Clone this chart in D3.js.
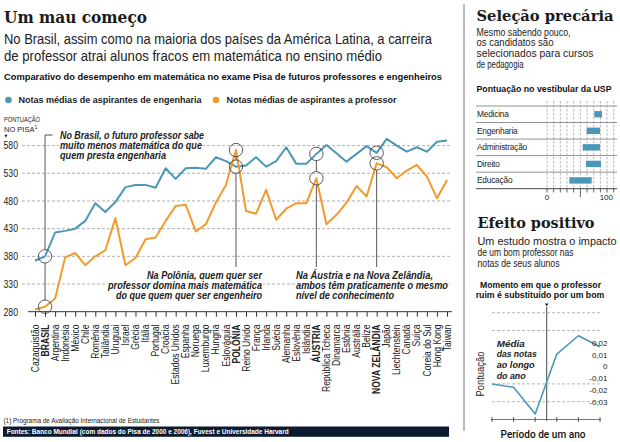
<!DOCTYPE html>
<html><head><meta charset="utf-8">
<script src="https://cdn.jsdelivr.net/npm/d3@7"></script>
<style>body{margin:0;background:#fff} svg{display:block}</style>
</head><body><svg id="c" width="620" height="442"></svg>
<script>
// ---------- DATA ----------
const countries = ["Cazaquistão","BRASIL","Argentina","Indonésia","México","Chile","Romênia","Tailândia","Uruguai","Israel","Grécia","Itália","Portugal","Croácia","Estados Unidos","Espanha","Noruega","Luxemburgo","Hungria","Eslováquia","POLÔNIA","Reino Unido","França","Irlanda","Suécia","Alemanha","Eslovênia","Islândia","ÁUSTRIA","República Tcheca","Dinamarca","Estônia","Austrália","Belize","NOVA ZELÂNDIA","Japão","Liechtenstein","Canadá","Suíça","Coreia do Sul","Hong Kong","Taiwan"];
const highlighted = ["BRASIL","POLÔNIA","ÁUSTRIA","NOVA ZELÂNDIA"];
const engenharia = [372,380,423,426,430,444,476,460,478,505,509,509,504,539,520,539,540,538,559,552,542,544,559,542,552,577,547,547,565,581,566,551,565,579,567,592,580,569,577,569,587,589];
const professor  = [284,289,304,378,386,364,380,391,449,364,377,411,414,444,471,473,425,438,477,509,572,462,457,500,446,466,476,476,521,438,455,477,507,488,548,541,521,535,545,524,485,518];
const yTicks = [280,330,380,430,480,530,580];

const cursos = ["Medicina","Engenharia","Administração","Direito","Educação"];
const notaMin = [71,59.5,53.5,58.5,33.5];
const notaMax = [82.5,79.5,79.5,81,67];
const uspTicks = [0,10,20,30,40,50,60,70,80,90,100];

const periodos = [1,2,3,4,5,6];
const mediaNotas = [-0.015,-0.0178,-0.0404,0.0104,0.0259,0.0166];
const efeitoTicks = [0.02,0.01,0,-0.01,-0.02,-0.03];
const efeitoLabels = ["0,02","0,01","0","-0,01","-0,02","-0,03"];

// ---------- STYLE ----------
const BLUE = "#4b98b6", ORANGE = "#f39a2c";
const SANS = "'Liberation Sans', Arial, sans-serif";
const NARROW = "'Liberation Sans Narrow', 'Liberation Sans', sans-serif";
const SERIF = "'DejaVu Serif', 'Liberation Serif', serif";
const svg = d3.select("#c");

function txt(g, s, x, y, o = {}) {
  const t = g.append("text").attr("x", x).attr("y", y).text(s)
    .attr("font-family", o.ff || SANS).attr("font-size", o.fs || 10)
    .attr("font-weight", o.fw || "normal").attr("fill", o.fill || "#222");
  if (o.fst) t.attr("font-style", o.fst);
  if (o.anchor) t.attr("text-anchor", o.anchor);
  if (o.w) t.attr("textLength", o.w).attr("lengthAdjust", "spacingAndGlyphs");
  if (o.halo) t.attr("stroke", "#fff").attr("stroke-width", 3).attr("paint-order", "stroke").attr("stroke-linejoin", "round");
  return t;
}
// scale a group of texts horizontally so that a reference text gets a target width
function calibrate(sel, refText, target) {
  let k = 1;
  sel.each(function () { if (this.textContent === refText) k = target / this.getComputedTextLength(); });
  sel.each(function () {
    d3.select(this).attr("textLength", this.getComputedTextLength() * k).attr("lengthAdjust", "spacingAndGlyphs");
  });
}

// ---------- HEADER ----------
txt(svg, "Um mau começo", 4, 22.7, {ff: SERIF, fs: 17, fw: "bold", fill: "#1a1a1a", w: 143});
txt(svg, "No Brasil, assim como na maioria dos países da América Latina, a carreira", 4, 44, {fs: 13.8, w: 428, fill: "#222"});
txt(svg, "de professor atrai alunos fracos em matemática no ensino médio", 4, 60.7, {fs: 13.8, w: 378, fill: "#222"});
txt(svg, "Comparativo do desempenho em matemática no exame Pisa de futuros professores e engenheiros", 4, 80, {fs: 8.5, fw: "bold", w: 438, fill: "#111"});

// legend
svg.append("circle").attr("cx", 8.5).attr("cy", 100).attr("r", 3.3).attr("fill", BLUE);
txt(svg, "Notas médias de aspirantes de engenharia", 18.5, 102.8, {fs: 8.8, fw: "bold", w: 183, fill: "#222"});
svg.append("circle").attr("cx", 216).attr("cy", 100).attr("r", 3.3).attr("fill", ORANGE);
txt(svg, "Notas médias de aspirantes a professor", 226.5, 102.8, {fs: 8.8, fw: "bold", w: 170, fill: "#222"});

// ---------- MAIN CHART ----------
const x = d3.scalePoint().domain(countries).range([35, 447]);
const y = d3.scaleLinear().domain([280, 580]).range([311.7, 145.6]);
const main = svg.append("g");

// y axis title
txt(main, "PONTUAÇÃO", 4, 122, {ff: NARROW, fs: 7.5, w: 36, fill: "#222"});
const np = txt(main, "NO PISA", 4, 131.5, {ff: NARROW, fs: 7.5, fill: "#222"});
np.append("tspan").attr("dy", -2.5).attr("font-size", 5).text("1");
main.append("path").attr("d", "M4.5,134.8 L7.5,134.8 L6,137.8 Z").attr("fill", "#222");

// gridlines
main.selectAll(".grid").data(yTicks.filter(v => v > 280)).join("line")
  .attr("x1", 22).attr("x2", 452).attr("y1", d => y(d)).attr("y2", d => y(d))
  .attr("stroke", "#9a9a9a").attr("stroke-width", 0.8).attr("stroke-dasharray", "3,2");
const ylabs = main.selectAll(".ylab").data(yTicks).join("text")
  .attr("x", 3.5).attr("y", d => y(d) + 3.8).text(d => d)
  .attr("font-family", NARROW).attr("font-size", 10.5).attr("fill", "#222");
calibrate(ylabs, "580", 14.5);

// x axis
main.append("line").attr("x1", 28).attr("x2", 452).attr("y1", y(280)).attr("y2", y(280))
  .attr("stroke", "#333").attr("stroke-width", 1);
const ax = main.append("g").attr("transform", `translate(0,${y(280)})`)
  .call(d3.axisBottom(x).tickSize(5).tickSizeOuter(0).tickFormat(""));
ax.select(".domain").remove();
ax.selectAll("line").attr("stroke", "#333");

const clabs = main.selectAll(".clab").data(countries).join("text")
  .attr("transform", d => `translate(${x(d) + 3.6},324.5) rotate(-90)`)
  .attr("text-anchor", "end").text(d => d)
  .attr("font-family", NARROW).attr("font-size", 10.3)
  .attr("font-weight", d => highlighted.includes(d) ? "bold" : "normal")
  .attr("fill", "#222");
calibrate(clabs, "Estados Unidos", 60);

// lines
const lineGen = d3.line().x((d, i) => x(countries[i])).y(d => y(d));
main.append("path").datum(engenharia).attr("d", lineGen).attr("fill", "none")
  .attr("stroke", BLUE).attr("stroke-width", 2).attr("stroke-linejoin", "round");
main.append("path").datum(professor).attr("d", lineGen).attr("fill", "none")
  .attr("stroke", ORANGE).attr("stroke-width", 2).attr("stroke-linejoin", "round");

// annotations
const R = 6.7, ANN = "#444";
function vline(xx, y1, y2) {
  if (y2 > y1) main.append("line").attr("x1", xx).attr("x2", xx).attr("y1", y1).attr("y2", y2)
    .attr("stroke", ANN).attr("stroke-width", 0.9);
}
function circ(xx, yy) {
  main.append("circle").attr("cx", xx).attr("cy", yy).attr("r", R)
    .attr("fill", "none").attr("stroke", "#333").attr("stroke-width", 0.8);
}
{
  const i = countries.indexOf("BRASIL"), xx = x(countries[i]);
  const ye = y(engenharia[i]), yp = y(professor[i]);
  main.append("path").attr("d", `M${xx + 7.5},135 H${xx} V${ye - R}`).attr("fill", "none")
    .attr("stroke", ANN).attr("stroke-width", 0.9);
  vline(xx, ye + R, yp - R);
  circ(xx, ye); circ(xx, yp);
}
["POLÔNIA", "ÁUSTRIA", "NOVA ZELÂNDIA"].forEach(c => {
  const i = countries.indexOf(c), xx = x(c);
  const a = Math.min(y(engenharia[i]), y(professor[i])), b = Math.max(y(engenharia[i]), y(professor[i]));
  vline(xx, a + R, b - R);
  vline(xx, b + R, 267);
  circ(xx, a); circ(xx, b);
});

const annO = {fs: 10, fw: "bold", fst: "italic", fill: "#222", halo: true};
txt(main, "No Brasil, o futuro professor sabe", 60, 139.2, {...annO, w: 144});
txt(main, "muito menos matemática do que", 60, 149, {...annO, w: 142});
txt(main, "quem presta engenharia", 60, 158.5, {...annO, w: 106});

txt(main, "Na Polônia, quem quer ser", 262, 279.4, {...annO, anchor: "end", w: 115});
txt(main, "professor domina mais matemática", 262, 289.4, {...annO, anchor: "end", w: 154});
txt(main, "do que quem quer ser engenheiro", 262, 299.4, {...annO, anchor: "end", w: 146});

txt(main, "Na Áustria e na Nova Zelândia,", 296, 279.4, {...annO, w: 137});
txt(main, "ambos têm praticamente o mesmo", 296, 289.4, {...annO, w: 152});
txt(main, "nível de conhecimento", 296, 299.4, {...annO, w: 98});

// footnote & source
txt(svg, "(1) Programa de Avaliação Internacional de Estudantes", 3.5, 423, {fs: 6.5, w: 156, fill: "#222"});
svg.append("rect").attr("x", 3).attr("y", 426.5).attr("width", 446).attr("height", 10.3).attr("fill", "#0c1a30");
txt(svg, "Fontes: Banco Mundial (com dados do Pisa de 2000 e 2006), Fuvest e Universidade Harvard", 6.7, 434.3, {fs: 6.8, fw: "bold", w: 282, fill: "#fff"});

// ---------- RIGHT PANEL ----------
svg.append("line").attr("x1", 464).attr("x2", 464).attr("y1", 4).attr("y2", 431).attr("stroke", "#777").attr("stroke-width", 1);

txt(svg, "Seleção precária", 476.5, 20.7, {ff: SERIF, fs: 14.8, fw: "bold", fill: "#1a1a1a", w: 137});
txt(svg, "Mesmo sabendo pouco,", 476.5, 35.6, {fs: 11.2, w: 94});
txt(svg, "os candidatos são", 476.5, 46.4, {fs: 11.2, w: 77});
txt(svg, "selecionados para cursos", 476.5, 57.2, {fs: 11.2, w: 117});
txt(svg, "de pedagogia", 476.5, 68, {fs: 11.2, w: 47});
txt(svg, "Pontuação no vestibular da USP", 476.5, 91.7, {fs: 8.3, fw: "bold", w: 135, fill: "#111"});

const xb = d3.scaleLinear().domain([0, 100]).range([547, 613.7]);
const yb = d3.scaleBand().domain(cursos).range([106, 188.7]);
const usp = svg.append("g");
usp.selectAll(".vg").data(uspTicks).join("line")
  .attr("x1", d => xb(d)).attr("x2", d => xb(d)).attr("y1", 101).attr("y2", 188.7)
  .attr("stroke", "#9a9a9a").attr("stroke-width", 0.7).attr("stroke-dasharray", "2.5,1.5");
usp.selectAll(".hl").data(cursos).join("line")
  .attr("x1", 476).attr("x2", 617).attr("y1", d => yb(d)).attr("y2", d => yb(d))
  .attr("stroke", "#777").attr("stroke-width", 0.8);
usp.append("line").attr("x1", 476).attr("x2", 617).attr("y1", 188.7).attr("y2", 188.7).attr("stroke", "#333").attr("stroke-width", 0.9);
usp.selectAll(".tk").data(uspTicks).join("line")
  .attr("x1", d => xb(d)).attr("x2", d => xb(d)).attr("y1", 188.7).attr("y2", d => d === 50 ? 197 : 192.5)
  .attr("stroke", "#333").attr("stroke-width", 0.8);
usp.selectAll(".bar").data(cursos).join("rect")
  .attr("x", (d, i) => xb(notaMin[i])).attr("width", (d, i) => xb(notaMax[i]) - xb(notaMin[i]))
  .attr("y", d => yb(d) + yb.bandwidth() / 2 - 3.2).attr("height", 6.4).attr("fill", BLUE);
usp.selectAll(".rl").data(cursos).join("text")
  .attr("x", 477).attr("y", d => yb(d) + yb.bandwidth() / 2 + 3).text(d => d)
  .attr("font-family", SANS).attr("font-size", 8.3).attr("fill", "#222").attr("letter-spacing", -0.2);
txt(usp, "0", xb(0), 200, {fs: 8, anchor: "middle", fill: "#222"});
txt(usp, "100", 613, 200, {fs: 8, anchor: "end", fill: "#222"});

// Efeito positivo
txt(svg, "Efeito positivo", 477.5, 228.3, {ff: SERIF, fs: 14.5, fw: "bold", fill: "#1a1a1a", w: 117});
txt(svg, "Um estudo mostra o impacto", 477.5, 245, {fs: 11, w: 139});
txt(svg, "de um bom professor nas", 477.5, 256, {fs: 11, w: 96});
txt(svg, "notas de seus alunos", 477.5, 266.8, {fs: 11, w: 82});

txt(svg, "Momento em que o professor", 540.5, 288.3, {fs: 8.8, fw: "bold", anchor: "middle", w: 121, fill: "#111"});
txt(svg, "ruim é substituído por um bom", 540, 298.3, {fs: 8.8, fw: "bold", anchor: "middle", w: 128.6, fill: "#111"});

const xe = d3.scalePoint().domain(periodos).range([492, 600]);
const ye = d3.scaleLinear().domain([-0.03, 0.02]).range([401.7, 342.7]);
const ef = svg.append("g");
ef.selectAll(".eg").data([0, 1, 4, 5]).join("line")
  .attr("x1", 492).attr("x2", 601).attr("y1", d => 312.7 + d * 17.8).attr("y2", d => 312.7 + d * 17.8)
  .attr("stroke", "#9a9a9a").attr("stroke-width", 0.7).attr("stroke-dasharray", "3,2");
ef.append("line").attr("x1", 546.7).attr("x2", 546.7).attr("y1", 307).attr("y2", 421).attr("stroke", "#333").attr("stroke-width", 0.9);
ef.append("path").attr("d", "M545,303.5 L548.4,303.5 L546.7,306.5 Z").attr("fill", "#222");
ef.append("line").attr("x1", 491).attr("x2", 601).attr("y1", 419.5).attr("y2", 419.5).attr("stroke", "#555").attr("stroke-width", 0.8);
ef.selectAll(".et").data(periodos).join("line")
  .attr("x1", d => xe(d)).attr("x2", d => xe(d)).attr("y1", 417).attr("y2", 422)
  .attr("stroke", "#333").attr("stroke-width", 0.8);
ef.append("path").datum(mediaNotas)
  .attr("d", d3.line().x((d, i) => xe(periodos[i])).y(d => ye(d)))
  .attr("fill", "none").attr("stroke", BLUE).attr("stroke-width", 1.6).attr("stroke-linejoin", "round");
ef.selectAll(".el").data(efeitoTicks).join("text")
  .attr("x", 607.5).attr("y", d => ye(d) + 3).attr("text-anchor", "end")
  .text((d, i) => efeitoLabels[i])
  .attr("font-family", NARROW).attr("font-size", 8).attr("fill", "#222");

txt(ef, "Pontuação", 0, 0, {fs: 10.5, w: 45, anchor: "middle"}).attr("transform", "translate(484,374) rotate(-90)");
const medO = {fs: 8.8, fw: "bold", fst: "italic", fill: "#222"};
txt(ef, "Média", 496.7, 346.5, {...medO, w: 28});
txt(ef, "das notas", 496.7, 357.2, {...medO, w: 40});
txt(ef, "ao longo", 496.7, 367.9, {...medO, w: 38});
txt(ef, "do ano", 496.7, 378.6, {...medO, w: 29});

txt(svg, "Período de um ano", 543, 437.5, {ff: "Roboto, 'Liberation Sans', sans-serif", fs: 10, fw: 500, anchor: "middle", w: 85, fill: "#111"});
</script>
</body></html>
